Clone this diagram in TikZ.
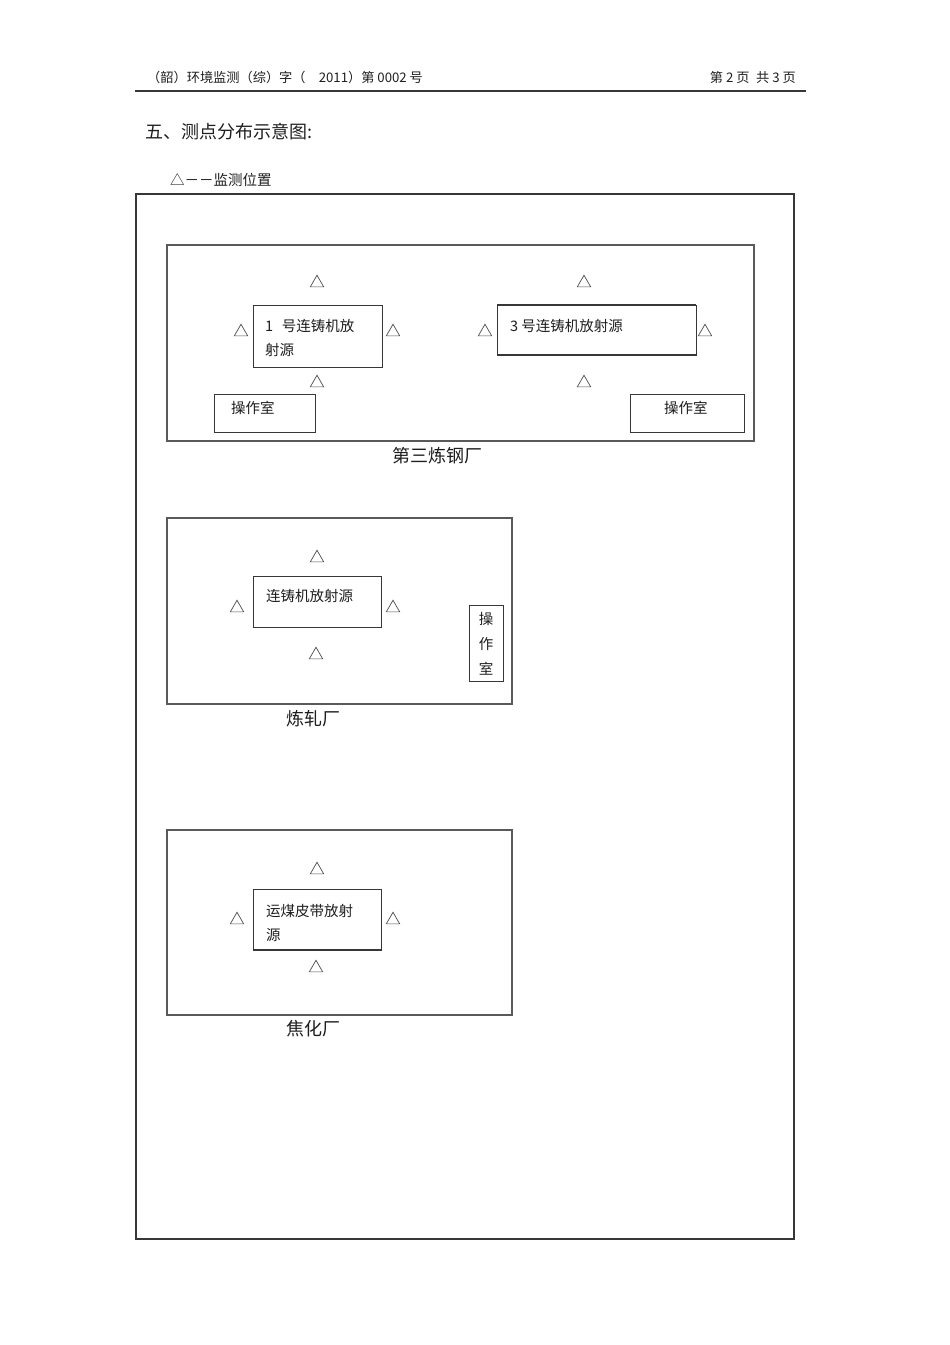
\documentclass[tikz,border=0pt]{standalone}
\usepackage{fontspec}
\setmainfont{Noto Sans CJK SC}
\usepackage{tikz}
\usetikzlibrary{positioning}
\usetikzlibrary{shapes.geometric}
\definecolor{framegray}{RGB}{55, 55, 55}
\definecolor{wallgray}{RGB}{90, 90, 90}
\definecolor{inkgray}{RGB}{30, 30, 30}

\begin{document}
\begin{tikzpicture}[x=1pt, y=-1pt,
        every node/.style={inner sep=0pt, text=inkgray},
        wall/.style={draw=wallgray, line width=1.3pt},
        room/.style={draw=framegray, line width=0.9pt},
        mpt/.style={regular polygon, regular polygon sides=3, draw=black!70, line width=0.7pt, minimum size=15.5pt},
        tag/.style={anchor=west, align=left, font=\fontsize{14.5}{24}\selectfont},
        plant/.style={font=\fontsize{18}{18}\selectfont}]
    \useasboundingbox (0,0) rectangle (950,1345);
    \node[anchor=west, font=\fontsize{13.2}{14}\selectfont] (head)  at (147, 77.5) {（韶）环境监测（综）字（\hspace{1em}2011）第 0002 号};
    \node[anchor=east, font=\fontsize{13.2}{14}\selectfont] (pages) at (796, 77.5) {第 2 页\hspace{0.5em}共 3 页};
    \draw[framegray, line width=1.1pt] (135, 91) -- (806, 91);
    \node[anchor=west, font=\fontsize{18}{18}\selectfont] (title)  at (145, 131.5) {五、测点分布示意图:};
    \node[anchor=west, font=\fontsize{14.5}{15}\selectfont] (legend) at (170, 179.5) {△－－监测位置};
    \draw[framegray, line width=1.2pt] (136, 194) rectangle (794, 1239);

    \draw[wall] (167, 245) rectangle (754, 441);
    \node[plant] (steel) at (437, 456) {第三炼钢厂};
    \draw[room] (253, 305) rectangle (382, 367);
    \node[tag] (srcone) at (265, 337.5) {1\hspace{0.6em}号连铸机放\\射源};
    \node[mpt] (s1t) at (317, 283) {};
    \node[mpt] (s1l) at (241, 332) {};
    \node[mpt] (s1r) at (393, 332) {};
    \node[mpt] (s1b) at (317, 383) {};
    \draw[room] (497, 305) rectangle (696, 355);
    \draw[framegray, line width=1.6pt] (497, 305) -- (696, 305);
    \draw[framegray, line width=2.2pt] (497, 355) -- (696, 355);
    \node[tag] (srcthree) at (510, 325.5) {3 号连铸机放射源};
    \node[mpt] (s3t) at (584, 283) {};
    \node[mpt] (s3l) at (485, 332) {};
    \node[mpt] (s3r) at (705, 332) {};
    \node[mpt] (s3b) at (584, 383) {};
    \draw[room] (214, 394) rectangle (315, 432);
    \node[tag] (ctrlone) at (231, 407.5) {操作室};
    \draw[room] (630, 394) rectangle (744, 432);
    \node[tag] (ctrltwo) at (664, 407.5) {操作室};

    \draw[wall] (167, 518) rectangle (512, 704);
    \node[plant] (rolling) at (313, 719) {炼轧厂};
    \draw[room] (253, 576) rectangle (381, 627);
    \node[tag] (srccast) at (266, 595.5) {连铸机放射源};
    \node[mpt] (rct) at (317, 558) {};
    \node[mpt] (rcl) at (237, 608) {};
    \node[mpt] (rcr) at (393, 608) {};
    \node[mpt] (rcb) at (316, 655) {};
    \draw[room] (469, 605) rectangle (503, 681);
    \node[align=center, font=\fontsize{14.5}{25}\selectfont] (ctrlrolling) at (486, 643.5) {操\\作\\室};

    \draw[wall] (167, 830) rectangle (512, 1015);
    \node[plant] (coking) at (313, 1029) {焦化厂};
    \draw[room] (253, 889) rectangle (381, 950);
    \draw[framegray, line width=2.2pt] (253, 950) -- (381, 950);
    \node[tag] (srcbelt) at (266, 922.5) {运煤皮带放射\\源};
    \node[mpt] (cbt) at (317, 870) {};
    \node[mpt] (cbl) at (237, 920) {};
    \node[mpt] (cbr) at (393, 920) {};
    \node[mpt] (cbb) at (316, 968) {};
\end{tikzpicture}
\end{document}
